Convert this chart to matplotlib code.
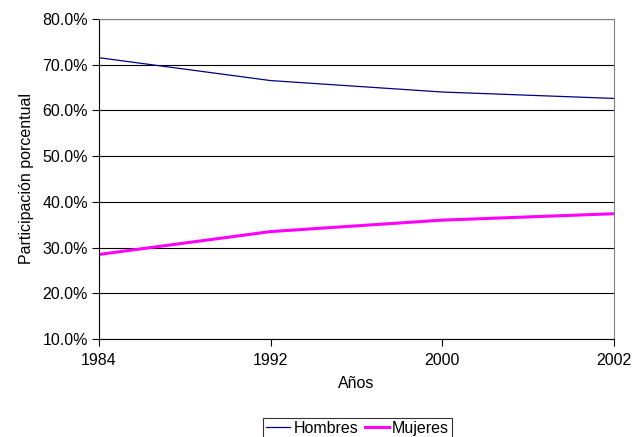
import matplotlib.pyplot as plt
from matplotlib.ticker import FuncFormatter

plt.rcParams['font.family'] = ['Liberation Sans', 'DejaVu Sans']

years = ['1984', '1992', '2000', '2002']
hombres = [71.5, 66.5, 64.0, 62.6]
mujeres = [28.5, 33.5, 36.0, 37.4]

fs = 11.5

fig = plt.figure(figsize=(6.34, 4.37), dpi=100)
ax = fig.add_axes([0.156, 0.224, 0.812, 0.733])

x = range(len(years))
ax.plot(x, hombres, color='#000080', lw=0.9, label='Hombres')
ax.plot(x, mujeres, color='#FF00FF', lw=2.2, label='Mujeres')

ax.set_xlim(0, len(years) - 1)
ax.set_ylim(10, 80)
ax.set_xticks(list(x))
ax.set_xticklabels(years)
ax.set_yticks(range(10, 81, 10))
ax.yaxis.set_major_formatter(FuncFormatter(lambda v, p: f'{v:.1f}%'))
ax.grid(axis='y', color='black', lw=0.8)
ax.set_axisbelow(True)

for s in ['top', 'right']:
    ax.spines[s].set_color('#808080')
for s in ['left', 'bottom']:
    ax.spines[s].set_color('black')
ax.tick_params(direction='out', length=5, width=0.8, labelsize=fs, colors='black')
ax.tick_params(axis='x', pad=5)
ax.tick_params(axis='y', pad=3)

ax.set_xlabel('Años', fontsize=fs, labelpad=6)
ax.set_ylabel('Participación porcentual', fontsize=fs, labelpad=6)

leg = fig.legend(loc='lower center', bbox_to_anchor=(0.564, -0.005), ncol=2, fontsize=fs,
                 frameon=True, fancybox=False, edgecolor='black', handlelength=1.5,
                 handletextpad=0.2, columnspacing=0.4, borderpad=0.2, borderaxespad=0)
leg.get_frame().set_linewidth(0.8)

fig.savefig('out.png', dpi=100)
